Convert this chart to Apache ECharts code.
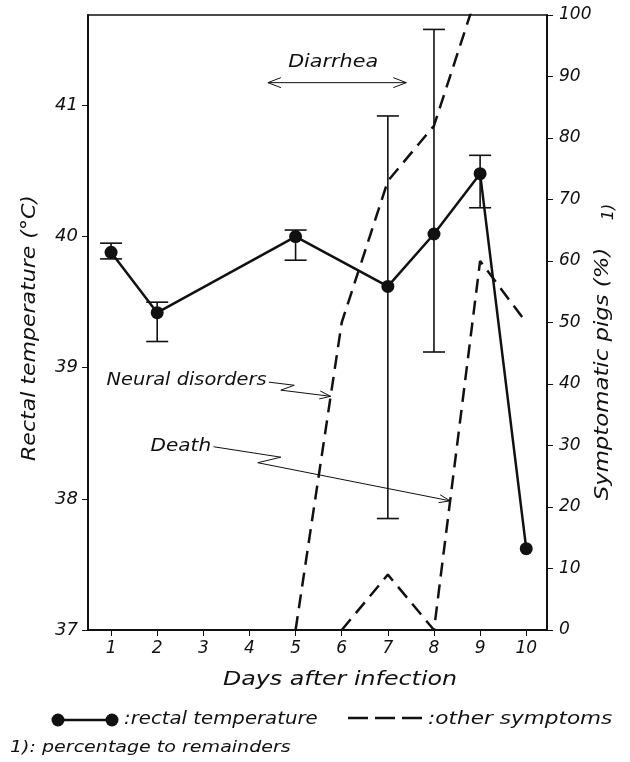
<!DOCTYPE html>
<html><head><meta charset="utf-8">
<script src="https://cdn.jsdelivr.net/npm/echarts@6/dist/echarts.min.js"></script>
<style>html,body{margin:0;padding:0;background:#fff}#c{width:630px;height:762px}</style>
</head><body><div id="c"></div>
<script>
// ---- data ----
const days = [1, 2, 3, 4, 5, 6, 7, 8, 9, 10];
const tempDays = [1, 2, 5, 7, 8, 9, 10];
const tempMean = [39.88, 39.42, 40.0, 39.62, 40.02, 40.48, 37.62];
const tempLow  = [39.83, 39.20, 39.82, 37.85, 39.12, 40.22, null];
const tempHigh = [39.95, 39.50, 40.05, 40.92, 41.58, 40.62, null];
const neuralDays = [5, 6, 7, 8, 9];
const neuralPct  = [0, 50, 73, 82, 105];
const deathDays = [6, 7, 8, 9, 10];
const deathPct  = [0, 9, 0, 60, 50];
const leftTicks = [37, 38, 39, 40, 41];
const rightTicks = [0, 10, 20, 30, 40, 50, 60, 70, 80, 90, 100];

const FONT = 'DejaVu Sans';
const chart = echarts.init(document.getElementById('c'), null, {renderer: 'canvas'});

const tempData = tempDays.map((d, i) => [d, tempMean[i]]);
const errData = tempDays.map((d, i) => [d, tempLow[i], tempHigh[i]]).filter(r => r[1] != null);
const neuralData = neuralDays.map((d, i) => [d, neuralPct[i]]);
const deathData = deathDays.map((d, i) => [d, deathPct[i]]);

const lbl = {fontFamily: FONT, fontStyle: 'italic', fontSize: 17, color: '#111'};

chart.setOption({
  animation: false,
  backgroundColor: '#fff',
  grid: {left: 88, right: 83, top: 15, bottom: 132, show: true, borderColor: '#111', borderWidth: 1.5, backgroundColor: 'transparent'},
  xAxis: {
    type: 'value', min: 0.5, max: 10.45,
    axisLine: {onZero: false, lineStyle: {color: '#111', width: 2}},
    axisTick: {customValues: days, length: 6, lineStyle: {color: '#111'}},
    axisLabel: Object.assign({customValues: days, margin: 10}, lbl),
    splitLine: {show: false}
  },
  yAxis: [{
    type: 'value', min: 37, max: 41.69, interval: 1, position: 'left',
    axisLine: {show: true, lineStyle: {color: '#111', width: 2}},
    axisTick: {show: true, customValues: leftTicks, length: 6, lineStyle: {color: '#111'}},
    axisLabel: Object.assign({customValues: leftTicks, margin: 10}, lbl, {fontSize: 18}),
    splitLine: {show: false}
  }, {
    type: 'value', min: 0, max: 100, interval: 10, position: 'right',
    axisLine: {show: true, lineStyle: {color: '#111', width: 2}},
    axisTick: {show: true, customValues: rightTicks, length: 6, lineStyle: {color: '#111'}},
    axisLabel: Object.assign({customValues: rightTicks, margin: 12}, lbl),
    splitLine: {show: false}
  }],
  series: [{
    name: 'neural', type: 'line', yAxisIndex: 1, data: neuralData, symbol: 'none', clip: true,
    lineStyle: {color: '#111', width: 2.5, type: [14, 8]}, z: 2
  }, {
    name: 'death', type: 'line', yAxisIndex: 1, data: deathData, symbol: 'none', clip: true,
    lineStyle: {color: '#111', width: 2.5, type: [14, 8]}, z: 2
  }, {
    name: 'err', type: 'custom', yAxisIndex: 0, data: errData, z: 3,
    renderItem: function (params, api) {
      const x = api.value(0);
      const lo = api.coord([x, api.value(1)]);
      const hi = api.coord([x, api.value(2)]);
      const w = 11;
      const st = {stroke: '#111', lineWidth: 1.6};
      return {type: 'group', children: [
        {type: 'line', shape: {x1: lo[0], y1: lo[1], x2: hi[0], y2: hi[1]}, style: st},
        {type: 'line', shape: {x1: lo[0] - w, y1: lo[1], x2: lo[0] + w, y2: lo[1]}, style: st},
        {type: 'line', shape: {x1: hi[0] - w, y1: hi[1], x2: hi[0] + w, y2: hi[1]}, style: st}
      ]};
    }
  }, {
    name: 'temp', type: 'line', yAxisIndex: 0, data: tempData, symbol: 'circle', symbolSize: 13,
    itemStyle: {color: '#111'}, lineStyle: {color: '#111', width: 2.5}, z: 4
  }]
});

// ---- annotations (computed through the axes) ----
function P(d, pct) { return chart.convertToPixel({xAxisIndex: 0, yAxisIndex: 1}, [d, pct]); }
function onSeries(ds, vs, d) {
  for (let i = 0; i < ds.length - 1; i++) {
    if (d >= ds[i] && d <= ds[i + 1]) { const t = (d - ds[i]) / (ds[i + 1] - ds[i]); return vs[i] + t * (vs[i + 1] - vs[i]); }
  }
  return 0;
}
function head(tip, from, len, spread) {
  const dx = tip[0] - from[0], dy = tip[1] - from[1];
  const L = Math.hypot(dx, dy), ux = dx / L, uy = dy / L;
  const bx = tip[0] - ux * len, by = tip[1] - uy * len;
  return [[bx - uy * spread, by + ux * spread], tip, [bx + uy * spread, by - ux * spread]];
}
function txt(x, y, s, size, align, sx, rot) {
  return {type: 'text', x: x, y: y, scaleX: sx || 1, rotation: rot || 0,
    style: {text: s, font: 'italic ' + size + 'px "DejaVu Sans"', fill: '#111', align: align, verticalAlign: 'middle'}};
}
const thin = {stroke: '#111', lineWidth: 1, fill: null};
const g = [];
// Diarrhea
const dA = P(4.4, 89), dB = P(7.4, 89);
g.push({type: 'line', shape: {x1: dA[0], y1: dA[1], x2: dB[0], y2: dB[1]}, style: thin});
g.push({type: 'polyline', shape: {points: head(dA, dB, 13, 5)}, style: thin});
g.push({type: 'polyline', shape: {points: head(dB, dA, 13, 5)}, style: thin});
const dT = P(5.9, 92.3);
g.push(txt(dT[0] - 4, dT[1], 'Diarrhea', 18, 'center', 1.15));
// Neural disorders
const nTip = P(5.76, onSeries(neuralDays, neuralPct, 5.76));
const nPts = [P(4.42, 40.3), P(4.97, 39.8), P(4.68, 39.0), nTip];
g.push({type: 'polyline', shape: {points: nPts}, style: thin});
g.push({type: 'polyline', shape: {points: head(nTip, nPts[2], 11, 4)}, style: thin});
const nT = P(4.37, 40.6);
g.push(txt(nT[0], nT[1], 'Neural disorders', 17, 'right', 1.14));
// Death
const deTip = P(8.35, onSeries(deathDays, deathPct, 8.35));
const dePts = [P(3.22, 29.8), P(4.68, 28.1), P(4.18, 27.2), deTip];
g.push({type: 'polyline', shape: {points: dePts}, style: thin});
g.push({type: 'polyline', shape: {points: head(deTip, dePts[2], 11, 4)}, style: thin});
const deT = P(3.17, 29.9);
g.push(txt(deT[0], deT[1], 'Death', 17, 'right', 1.18));
// Axis titles
g.push(txt(340, 680, 'Days after infection', 19, 'center', 1.25));
g.push(txt(30, 328, 'Rectal temperature (°C)', 19, 'center', 1.16, Math.PI / 2));
g.push(txt(603, 374, 'Symptomatic pigs (%)', 19, 'center', 1.2, Math.PI / 2));
g.push(txt(609, 212, '1)', 16, 'center', 1, Math.PI / 2));
// Legend
g.push({type: 'line', shape: {x1: 58, y1: 720, x2: 112, y2: 720}, style: {stroke: '#111', lineWidth: 2.5}});
g.push({type: 'circle', shape: {cx: 58, cy: 720, r: 6.5}, style: {fill: '#111'}});
g.push({type: 'circle', shape: {cx: 112, cy: 720, r: 6.5}, style: {fill: '#111'}});
g.push(txt(124, 720, ':rectal temperature', 17, 'left', 1.16));
g.push({type: 'line', shape: {x1: 348, y1: 718, x2: 423, y2: 718}, style: {stroke: '#111', lineWidth: 2.5, lineDash: [20, 7]}});
g.push(txt(428, 720, ':other symptoms', 17, 'left', 1.27));
g.push(txt(10, 748, '1): percentage to remainders', 16, 'left', 1.19));
chart.setOption({graphic: g});
</script></body></html>
